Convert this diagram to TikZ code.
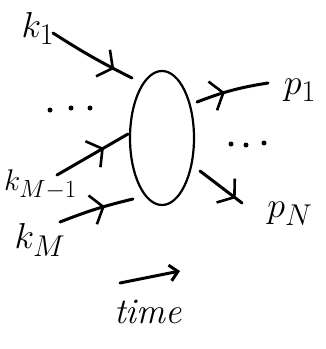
\documentclass[tikz,border=0pt]{standalone}
\usepackage{graphicx}
\usetikzlibrary{arrows.meta,decorations.markings,shapes.geometric}
\newcommand{\bigtxt}[2][1.45]{\scalebox{#1}{#2}}
\begin{document}
\begin{tikzpicture}[x=1pt,y=-1pt,
  stroke/.style={line width=3pt,line cap=round,line join=round},
  leg/.style={stroke,postaction={decorate},decoration={markings,
    mark=at position #1 with {\arrow[line width=2.6pt]{Straight Barb[length=11pt,width=30pt]}}}},
  lbl/.style={inner sep=0pt,font=\fontsize{24.88}{26}\selectfont},
  dot/.style={circle,fill,inner sep=0pt,minimum size=5pt}]
\useasboundingbox (0,0) rectangle (326,349);
% blob
\node[draw,ellipse,line width=2.2pt,minimum width=64pt,minimum height=134pt,inner sep=0pt] (blob) at (162,138) {};
% end points on the blob
\coordinate (a1) at (132,78);
\coordinate (a2) at (128,134);
\coordinate (a3) at (133,199);
\coordinate (b1) at (197,102);
\coordinate (b2) at (200,171);
% starts / ends
\coordinate (s1) at (53,33);
\coordinate (s2) at (57,175);
\coordinate (s3) at (60,222);
\coordinate (e1) at (268,83);
\coordinate (e2) at (242,203);
% legs
\draw[leg=0.78] (s1) to[bend right=3] (a1);
\draw[leg=0.66] (s2) -- (a2);
\draw[leg=0.62] (s3) to[bend left=4] (a3);
\draw[leg=0.40] (b1) to[bend left=6] (e1);
\draw[leg=0.85] (b2) -- (e2);
% labels
\node[lbl] (k1) at (38,28) {\bigtxt{$k_1$}};
\node[lbl,anchor=west] (kM1) at (4,185) {\bigtxt[1.2]{$k_{M-1}$}};
\node[lbl] (kM) at (40,240) {\bigtxt{$k_M$}};
\node[lbl] (p1) at (300,90) {\bigtxt{$p_1$}};
\node[lbl] (pN) at (290,214) {\bigtxt{$p_N$}};
% dots
\node[dot] (l1) at (50,110) {};
\node[dot] (l2) at (71,108) {};
\node[dot] (l3) at (90,108) {};
\node[dot] (r1) at (231,144) {};
\node[dot] (r2) at (246,145) {};
\node[dot] (r3) at (264,143) {};
% time arrow
\coordinate (t0) at (120,283);
\coordinate (t1) at (180,271);
\draw[stroke,-{Straight Barb[length=8pt,width=16pt]}] (t0) -- (t1);
\node[lbl] (time) at (148,312) {\bigtxt{\itshape time}};
\end{tikzpicture}
\end{document}
